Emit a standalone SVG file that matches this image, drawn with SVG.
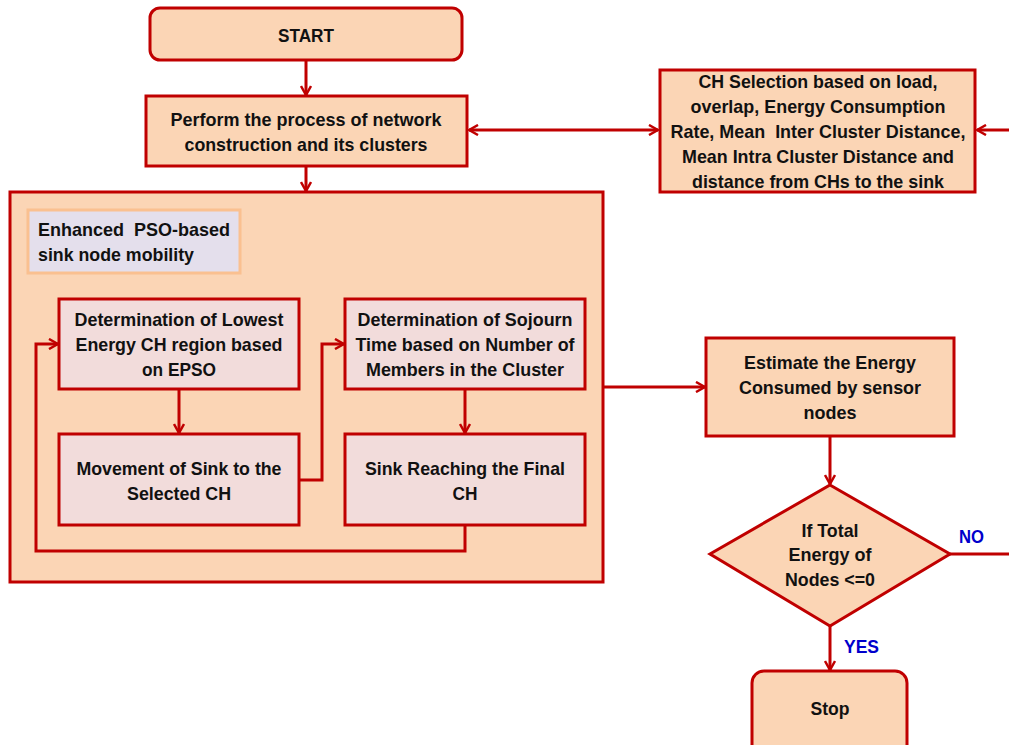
<svg xmlns="http://www.w3.org/2000/svg" width="1009" height="745" viewBox="0 0 1009 745">
<defs>
<marker id="arr" viewBox="0 0 12 12" refX="11" refY="6" markerWidth="12" markerHeight="12" markerUnits="userSpaceOnUse" orient="auto-start-reverse">
<path d="M2,1 L11,6 L2,11" fill="none" stroke="#C00000" stroke-width="2.5"/>
</marker>
<style>
.box{fill:#FBD5B5;stroke:#C00000;stroke-width:3}
.inner{fill:#F2DCDB;stroke:#C00000;stroke-width:3}
.t{font-family:"Liberation Sans",Arial,sans-serif;font-weight:bold;font-size:19px;fill:#111;text-anchor:middle}
.tl{text-anchor:start}
.lab{font-family:"Liberation Sans",Arial,sans-serif;font-weight:bold;font-size:18px;fill:#0000CC}
.c{fill:none;stroke:#C00000;stroke-width:3}
</style>
</defs>
<rect width="1009" height="745" fill="#fff"/>
<g id="start"><rect class="box" x="150" y="8" width="312" height="52" rx="10"/><text class="t" x="306" y="42" textLength="56" lengthAdjust="spacingAndGlyphs">START</text></g>
<g id="construct"><rect class="box" x="146" y="96" width="321" height="70"/>
<text class="t" x="306" y="126" textLength="271" lengthAdjust="spacingAndGlyphs">Perform the process of network</text>
<text class="t" x="306" y="151" textLength="243" lengthAdjust="spacingAndGlyphs">construction and its clusters</text></g>
<g id="chsel"><rect class="box" x="660" y="70" width="315" height="122"/>
<text class="t" x="818" y="88" textLength="239" lengthAdjust="spacingAndGlyphs">CH Selection based on load,</text>
<text class="t" x="818" y="113" textLength="255" lengthAdjust="spacingAndGlyphs">overlap, Energy Consumption</text>
<text class="t" x="818" y="138" textLength="295" lengthAdjust="spacingAndGlyphs" xml:space="preserve">Rate, Mean  Inter Cluster Distance,</text>
<text class="t" x="818" y="163" textLength="272" lengthAdjust="spacingAndGlyphs">Mean Intra Cluster Distance and</text>
<text class="t" x="818" y="188" textLength="252" lengthAdjust="spacingAndGlyphs">distance from CHs to the sink</text></g>
<g id="epso"><rect class="box" x="10" y="192" width="593" height="390"/>
<rect x="28" y="210" width="212" height="63" fill="#E4DFEC" stroke="#FAC090" stroke-width="3"/>
<text class="t tl" x="38" y="236" textLength="192" lengthAdjust="spacingAndGlyphs" xml:space="preserve">Enhanced  PSO-based</text>
<text class="t tl" x="38" y="261" textLength="156" lengthAdjust="spacingAndGlyphs">sink node mobility</text></g>
<g id="lowest"><rect class="inner" x="59" y="299" width="240" height="90"/>
<text class="t" x="179" y="326" textLength="209" lengthAdjust="spacingAndGlyphs">Determination of Lowest</text>
<text class="t" x="179" y="351" textLength="207" lengthAdjust="spacingAndGlyphs">Energy CH region based</text>
<text class="t" x="179" y="376" textLength="74" lengthAdjust="spacingAndGlyphs">on EPSO</text></g>
<g id="sojourn"><rect class="inner" x="345" y="299" width="240" height="90"/>
<text class="t" x="465" y="326" textLength="215" lengthAdjust="spacingAndGlyphs">Determination of Sojourn</text>
<text class="t" x="465" y="351" textLength="219" lengthAdjust="spacingAndGlyphs">Time based on Number of</text>
<text class="t" x="465" y="376" textLength="198" lengthAdjust="spacingAndGlyphs">Members in the Cluster</text></g>
<g id="movement"><rect class="inner" x="59" y="434" width="240" height="91"/>
<text class="t" x="179" y="475" textLength="205" lengthAdjust="spacingAndGlyphs">Movement of Sink to the</text>
<text class="t" x="179" y="500" textLength="104" lengthAdjust="spacingAndGlyphs">Selected CH</text></g>
<g id="final"><rect class="inner" x="345" y="434" width="240" height="91"/>
<text class="t" x="465" y="475" textLength="200" lengthAdjust="spacingAndGlyphs">Sink Reaching the Final</text>
<text class="t" x="465" y="500" textLength="25" lengthAdjust="spacingAndGlyphs">CH</text></g>
<g id="estimate"><rect class="box" x="706" y="338" width="248" height="98"/>
<text class="t" x="830" y="369" textLength="172" lengthAdjust="spacingAndGlyphs">Estimate the Energy</text>
<text class="t" x="830" y="394" textLength="182" lengthAdjust="spacingAndGlyphs">Consumed by sensor</text>
<text class="t" x="830" y="419" textLength="53" lengthAdjust="spacingAndGlyphs">nodes</text></g>
<g id="decision"><polygon class="box" points="830,485 950,554 830,626 710,554"/>
<text class="t" x="830" y="537" textLength="57" lengthAdjust="spacingAndGlyphs">If Total</text>
<text class="t" x="830" y="561" textLength="83" lengthAdjust="spacingAndGlyphs">Energy of</text>
<text class="t" x="830" y="586" textLength="90" lengthAdjust="spacingAndGlyphs">Nodes &lt;=0</text></g>
<g id="stop"><rect class="box" x="752" y="671" width="155" height="90" rx="12"/><text class="t" x="830" y="715" textLength="39" lengthAdjust="spacingAndGlyphs">Stop</text></g>
<g id="connectors">
<line class="c" x1="306" y1="60" x2="306" y2="95" marker-end="url(#arr)"/>
<line class="c" x1="306" y1="166" x2="306" y2="191" marker-end="url(#arr)"/>
<line class="c" x1="469" y1="130" x2="658" y2="130" marker-start="url(#arr)" marker-end="url(#arr)"/>
<line class="c" x1="1009" y1="130" x2="977" y2="130" marker-end="url(#arr)"/>
<line class="c" x1="179" y1="389" x2="179" y2="433" marker-end="url(#arr)"/>
<polyline class="c" points="299,480 322,480 322,344 344,344" marker-end="url(#arr)"/>
<line class="c" x1="465" y1="389" x2="465" y2="433" marker-end="url(#arr)"/>
<polyline class="c" points="465,525 465,551 36,551 36,344 58,344" marker-end="url(#arr)"/>
<line class="c" x1="603" y1="387" x2="705" y2="387" marker-end="url(#arr)"/>
<line class="c" x1="830" y1="436" x2="830" y2="484" marker-end="url(#arr)"/>
<line class="c" x1="830" y1="626" x2="830" y2="670" marker-end="url(#arr)"/>
<line class="c" x1="950" y1="554" x2="1009" y2="554"/>
<text class="lab" x="959" y="543" textLength="25" lengthAdjust="spacingAndGlyphs">NO</text>
<text class="lab" x="844" y="653" textLength="35" lengthAdjust="spacingAndGlyphs">YES</text>
</g>
</svg>
